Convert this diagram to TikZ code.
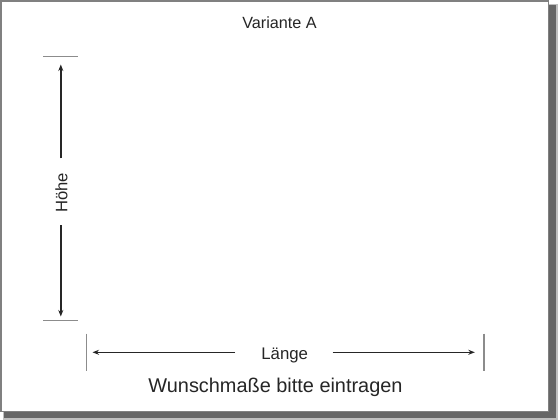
\documentclass[tikz,border=0pt]{standalone}
\usepackage{fontspec}
\setmainfont{Liberation Sans}
\usetikzlibrary{arrows.meta}
\begin{document}
\begin{tikzpicture}[x=1pt,y=-1pt,
  tick/.style={draw=black!45,line width=1.1pt},
  dimarrow/.style={draw=black!85,line width=1.5pt,-{Stealth[length=6.5pt,width=5pt]}},
  lbl/.style={inner sep=0pt,anchor=base,text=black!85}]
\useasboundingbox (0,0) rectangle (560,420);
% shadow
\fill[black!25] (3,4) rectangle (557.5,419.5);
\fill[black!60] (4,5) rectangle (555.5,417.5);
% sheet
\filldraw[fill=white,draw=black!50,line width=1.6pt] (0.8,0.8) rectangle (548.3,411.5);
% texts
\node[lbl,font=\fontsize{16.2}{18}\selectfont] (title) at (279.5,29) {Variante A};
\node[lbl,font=\fontsize{16.6}{19}\selectfont,rotate=90] (hoehe) at (67.3,193) {Höhe};
\node[lbl,font=\fontsize{16.8}{19}\selectfont] (laenge) at (284.7,359) {Länge};
\node[lbl,font=\fontsize{19.9}{22}\selectfont] (wunsch) at (275.5,392.7) {Wunschmaße bitte eintragen};
% tick marks
\coordinate (httl) at (43.3,56.7); \coordinate (httr) at (77.7,56.7);
\coordinate (htbl) at (43.3,320.3); \coordinate (htbr) at (77.7,320.3);
\coordinate (ltt) at (86.7,333.5); \coordinate (ltb) at (86.7,370.5);
\coordinate (rtt) at (484,333.5); \coordinate (rtb) at (484,370.5);
\draw[tick] (httl) -- (httr);
\draw[tick] (htbl) -- (htbr);
\draw[tick] (ltt) -- (ltb);
\draw[tick] (rtt) -- (rtb);
% dimension arrows
\coordinate (hup) at (60.8,158.3); \coordinate (hupend) at (60.8,64.5);
\coordinate (hdn) at (60.8,225); \coordinate (hdnend) at (60.8,316.5);
\coordinate (lft) at (235,352.3); \coordinate (lftend) at (92.5,352.3);
\coordinate (rgt) at (332.7,352.3); \coordinate (rgtend) at (474.8,352.3);
\draw[dimarrow] (hup) -- (hupend);
\draw[dimarrow] (hdn) -- (hdnend);
\draw[dimarrow] (lft) -- (lftend);
\draw[dimarrow] (rgt) -- (rgtend);
\end{tikzpicture}
\end{document}
